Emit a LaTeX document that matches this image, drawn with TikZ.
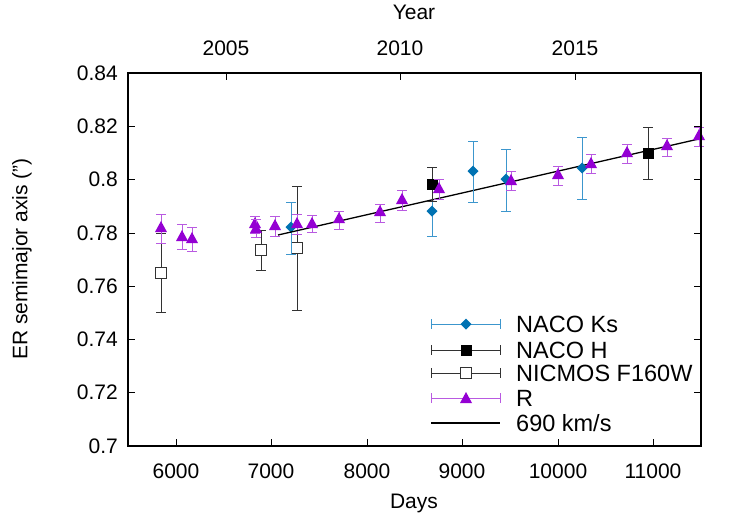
\documentclass[tikz,border=0pt]{standalone}
\usepackage{fontspec}
\setmainfont{Liberation Sans}
\definecolor{cks}{RGB}{0,114,178}
\definecolor{cksbar}{RGB}{60,150,205}
\definecolor{cr}{RGB}{148,0,211}
\definecolor{crbar}{RGB}{185,90,225}
\definecolor{cbar}{RGB}{50,50,50}
\newcommand{\ebar}[4]{\draw[#1,line width=1pt] (#2,#3)--(#2,#4) (#2-5,#3)--(#2+5,#3) (#2-5,#4)--(#2+5,#4);}
\newcommand{\mtri}[2]{\fill[cr] (#1-6,#2+5)--(#1+6,#2+5)--(#1,#2-6)--cycle;}
\newcommand{\mdia}[2]{\fill[cks] (#1-5.5,#2)--(#1,#2-5.5)--(#1+5.5,#2)--(#1,#2+5.5)--cycle;}
\newcommand{\msqf}[2]{\fill[black] (#1-5.5,#2-5.5) rectangle (#1+5.5,#2+5.5);}
\newcommand{\msqo}[2]{\fill[white] (#1-5.5,#2-5.5) rectangle (#1+5.5,#2+5.5);\draw[cbar,line width=1pt] (#1-5.5,#2-5.5) rectangle (#1+5.5,#2+5.5);}
\newcommand{\Rp}[4]{\ebar{crbar}{#1}{#3}{#4}\mtri{#1}{#2}}
\newcommand{\Kp}[4]{\ebar{cksbar}{#1}{#3}{#4}\mdia{#1}{#2}}
\newcommand{\Hp}[4]{\ebar{cbar}{#1}{#3}{#4}\msqf{#1}{#2}}
\newcommand{\Np}[4]{\ebar{cbar}{#1}{#3}{#4}\msqo{#1}{#2}}
\begin{document}
\begin{tikzpicture}[x=1pt,y=-1pt,font=\fontsize{21}{24}\selectfont,
  lab/.style={inner sep=0pt},leg/.style={inner sep=0pt,anchor=west,font=\fontsize{23.5}{26}\selectfont}]
\useasboundingbox (0,0) rectangle (747,523);
% ticks
\foreach \y/\t in {73/0.84,126.3/0.82,179.6/0.8,232.9/0.78,286.1/0.76,339.4/0.74,392.7/0.72,446/0.7}{
  \draw[line width=0.8pt] (128,\y)--(135,\y) (701,\y)--(694,\y);
  \node[lab,anchor=east] (yl) at (118,\y) {\t};}
\foreach \x/\t in {176/6000,271/7000,367/8000,462/9000,558/10000,653/11000}{
  \draw[line width=0.8pt] (\x,446)--(\x,439);
  \node[lab] (xl) at (\x,471) {\t};}
\foreach \x/\t in {226/2005,400/2010,575/2015}{
  \draw[line width=0.8pt] (\x,73)--(\x,80);
  \node[lab] (tl) at (\x,48) {\t};}
\node[lab] (days) at (414,503) {Days};
\node[lab] (year) at (414,12) {Year};
\node[lab,rotate=90] (ylab) at (22,259) {ER semimajor axis (")};
% data
\Np{161}{273}{233}{312}
\Np{261}{250}{230}{270}
\Np{297}{248}{186}{310}
\Rp{161}{227}{214}{243}
\Rp{182}{236}{224}{249}
\Rp{192}{238}{227}{251}
\Rp{255}{223}{216}{233}
\Rp{256}{228}{219}{237}
\Rp{275}{225}{216}{236}
\Kp{291}{227}{202}{254}
\Rp{297}{223}{214}{234}
\draw[black,line width=1.3pt] (278,235)--(701,138.5);
\Rp{312}{223}{215}{232}
\Rp{339}{218}{211}{229}
\Rp{380}{211}{204}{222}
\Rp{402}{199}{190}{210}
\Kp{432}{211}{186}{236}
\Hp{432}{184}{167}{201}
\Rp{439}{188}{179}{199}
\Kp{473}{171}{141}{202}
\Kp{506}{179}{149}{211}
\Rp{511}{180}{171}{190}
\Rp{558}{174}{166}{185}
\Kp{582}{168}{137}{199}
\Rp{591}{163}{154}{173}
\Rp{627}{152}{144}{163}
\Hp{648}{153}{127}{179}
\Rp{667}{145}{138}{156}
\Rp{699}{135}{127}{146}
% legend
\draw[cksbar,line width=1pt] (431,324)--(500,324) (431,319)--(431,329) (500,319)--(500,329);\mdia{466}{324}
\draw[cbar,line width=1pt] (431,350)--(500,350) (431,345)--(431,355) (500,345)--(500,355);\msqf{466}{350}
\draw[cbar,line width=1pt] (431,373)--(500,373) (431,368)--(431,378) (500,368)--(500,378);\msqo{466}{373}
\draw[crbar,line width=1pt] (431,398)--(500,398) (431,393)--(431,403) (500,393)--(500,403);\mtri{466}{398}
\draw[black,line width=1.3pt] (431,423)--(500,423);
\node[leg] (l1) at (516,324) {NACO Ks};
\node[leg] (l2) at (516,350) {NACO H};
\node[leg] (l3) at (516,373) {NICMOS F160W};
\node[leg] (l4) at (516,398) {R};
\node[leg] (l5) at (516,423) {690 km/s};
\draw[line width=1.3pt] (128,73) rectangle (701,446);
\end{tikzpicture}
\end{document}
